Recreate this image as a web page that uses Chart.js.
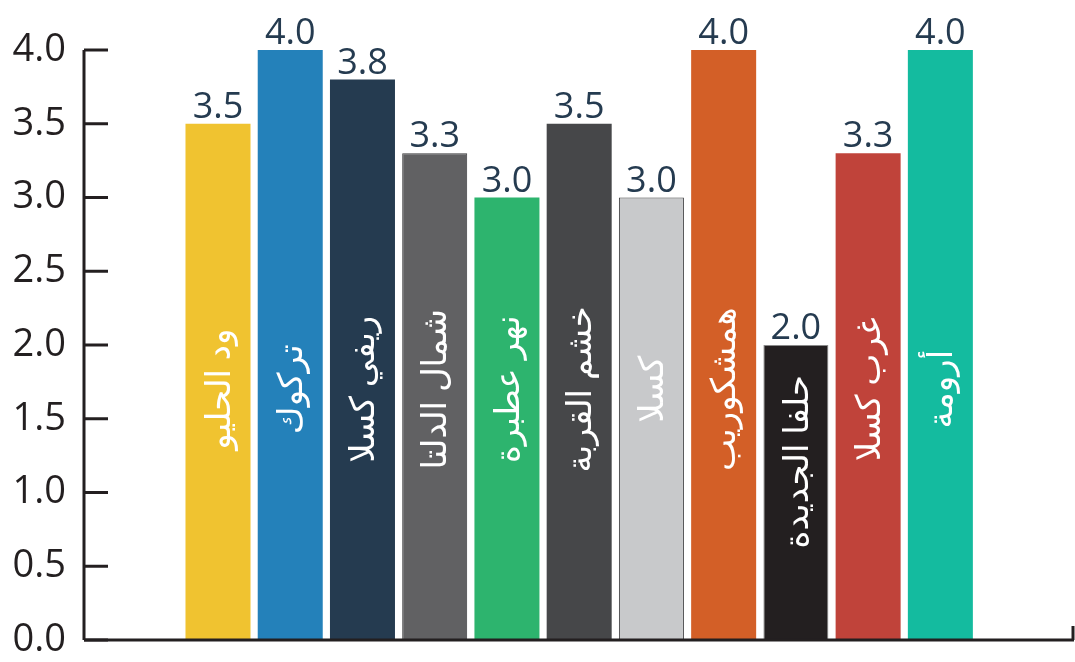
<!DOCTYPE html>
<html>
<head>
<meta charset="utf-8">
<script src="https://cdn.jsdelivr.net/npm/chart.js@4"></script>
<style>
  html, body { margin: 0; padding: 0; background: #fff; }
  #wrap { width: 1075px; height: 662px; }
</style>
</head>
<body>
<div id="wrap"><canvas id="chart"></canvas></div>
<script>
const categories = ["ود الحليو", "تركوك", "ريفي كسلا", "شمال الدلتا", "نهر عطبرة", "خشم القربة", "كسلا", "همشكوريب", "حلفا الجديدة", "غرب كسلا", "أرومة"];
const values = [3.5, 4.0, 3.8, 3.3, 3.0, 3.5, 3.0, 4.0, 2.0, 3.3, 4.0];
const yTicks = [0, 0.5, 1.0, 1.5, 2.0, 2.5, 3.0, 3.5, 4.0];

const barColors = ["#f0c330", "#2481ba", "#253b50", "#616163", "#2db46e", "#464749", "#c8c9cb", "#d35f27", "#231f20", "#c0433a", "#14bb9f"];
const barBorders = ["#f0c330", "#2481ba", "#253b50", "#3a3a3c", "#2db46e", "#464749", "#3d3d3f", "#d35f27", "#8a8a8a", "#c0433a", "#14bb9f"];
const barBorderWidths = [0, 0, 0, 1, 0, 0, 1, 0, 1, 0, 0];

const axisColor = "#231f20";
const numFont = "'Open Sans', 'DejaVu Sans', sans-serif";
const arFont = "'Noto Sans', 'DejaVu Sans', sans-serif";

const decorations = {
  id: "decorations",
  afterDatasetsDraw(chart) {
    const { ctx, chartArea, scales } = chart;
    const y = scales.y;
    const meta = chart.getDatasetMeta(0);
    ctx.save();

    // y axis with inward ticks
    ctx.strokeStyle = axisColor;
    ctx.lineWidth = 3;
    ctx.beginPath();
    ctx.moveTo(chartArea.left, y.getPixelForValue(4));
    ctx.lineTo(chartArea.left, chartArea.bottom);
    ctx.stroke();
    yTicks.forEach((t) => {
      const py = y.getPixelForValue(t);
      ctx.beginPath();
      ctx.moveTo(chartArea.left, py);
      ctx.lineTo(chartArea.left + 24, py);
      ctx.stroke();
    });
    // x axis
    ctx.beginPath();
    ctx.moveTo(chartArea.left, chartArea.bottom);
    ctx.lineTo(chartArea.right, chartArea.bottom);
    ctx.stroke();
    ctx.beginPath();
    ctx.moveTo(chartArea.right - 1, chartArea.bottom);
    ctx.lineTo(chartArea.right - 1, chartArea.bottom - 14);
    ctx.stroke();

    meta.data.forEach((bar, i) => {
      // value label
      ctx.fillStyle = "#253b50";
      ctx.font = "36px " + numFont;
      ctx.textAlign = "center";
      ctx.textBaseline = "alphabetic";
      ctx.fillText(values[i].toFixed(1), bar.x, bar.y - 6);

      // category label inside bar
      ctx.font = "34px " + arFont;
      const w = ctx.measureText(categories[i]).width;
      const cy = Math.max(y.getPixelForValue(1.7), bar.y + 30 + w / 2);
      ctx.save();
      ctx.translate(bar.x + 2, cy);
      ctx.rotate(-Math.PI / 2);
      ctx.fillStyle = "#ffffff";
      ctx.textAlign = "center";
      ctx.textBaseline = "middle";
      ctx.direction = "rtl";
      ctx.fillText(categories[i], 0, 0);
      ctx.restore();
    });
    ctx.restore();
  },
};

new Chart(document.getElementById("chart"), {
  type: "bar",
  data: {
    datasets: [
      {
        data: values.map((v, i) => ({ x: i, y: v })),
        backgroundColor: barColors,
        borderColor: barBorders,
        borderWidth: barBorderWidths,
        barPercentage: 0.9,
        categoryPercentage: 1.0,
      },
    ],
  },
  options: {
    responsive: true,
    maintainAspectRatio: false,
    animation: false,
    layout: { padding: { top: 50, right: 1, bottom: 22, left: 0 } },
    plugins: { legend: { display: false }, tooltip: { enabled: false } },
    scales: {
      x: {
        type: "linear",
        display: false,
        offset: false,
        min: -1.855,
        max: 11.85,
      },
      y: {
        min: 0,
        max: 4,
        afterFit: (scale) => {
          scale.width = 84;
          scale.paddingTop = 0;
          scale.paddingBottom = 0;
        },
        afterBuildTicks: (scale) => { scale.ticks = yTicks.map((v) => ({ value: v })); },
        grid: { display: false, drawTicks: false },
        border: { display: false },
        ticks: {
          color: axisColor,
          padding: 18,
          font: { family: numFont, size: 38 },
          callback: (v) => v.toFixed(1),
        },
      },
    },
  },
  plugins: [decorations],
});
</script>
</body>
</html>
